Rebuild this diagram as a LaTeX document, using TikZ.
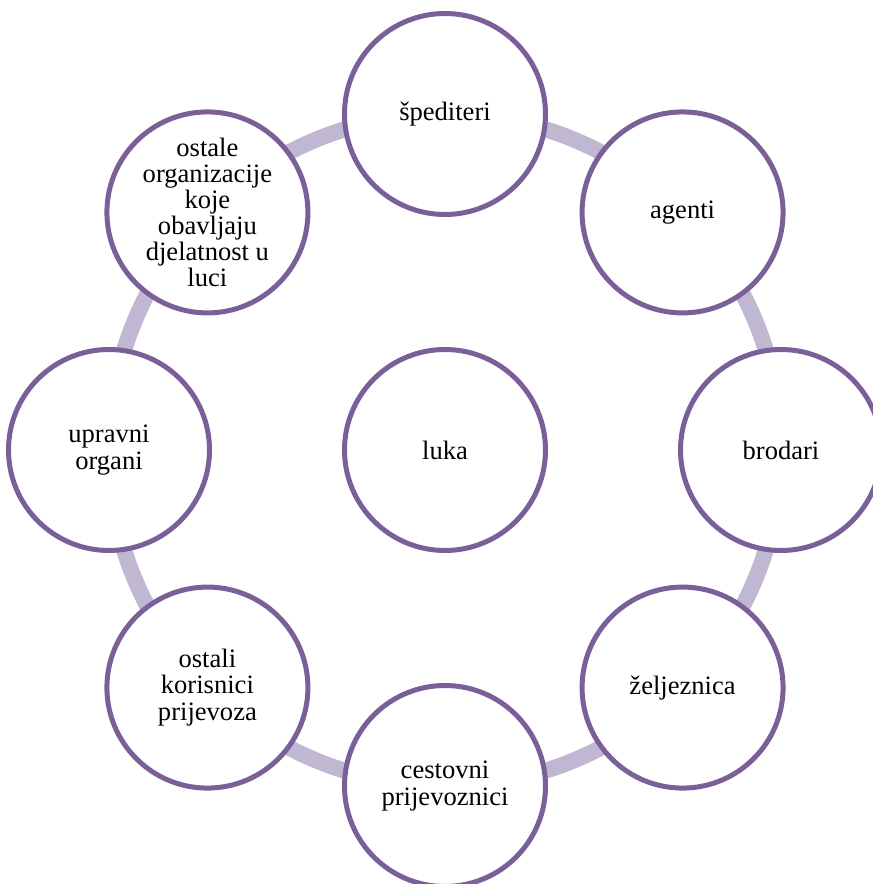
\documentclass[tikz,border=0pt]{standalone}
\usepackage{fontspec}
\setmainfont{Liberation Serif}
\usepackage{tikz}
\definecolor{krugrub}{HTML}{7B5F99}
\definecolor{prsten}{HTML}{C0B8D3}

\begin{document}
\begin{tikzpicture}[line width=3.56pt,
    krug/.style={circle,draw=krugrub,fill=white,minimum size=5.025cm,inner sep=0pt,
      align=center,font=\rmfamily\fontsize{18.9}{18.6}\selectfont}]
  \useasboundingbox (-11.125,-10.85) rectangle (10.7,11.25);
  \draw[prsten,line width=11.4pt] (0,0) circle (8.4);
  \node[krug] (luka) at (0,0) {luka};
  \node[krug] (spediteri) at (90:8.4) {špediteri};
  \node[krug] (agenti) at (45:8.4) {agenti};
  \node[krug] (brodari) at (0:8.4) {brodari};
  \node[krug] (zeljeznica) at (-45:8.4) {željeznica};
  \node[krug] (cestovni) at (-90:8.4) {cestovni\\prijevoznici};
  \node[krug] (korisnici) at (-135:8.4) {ostali\\korisnici\\prijevoza};
  \node[krug] (upravni) at (180:8.4) {upravni\\organi};
  \node[krug] (ostale) at (135:8.4) {ostale\\organizacije\\koje\\obavljaju\\djelatnost u\\luci};
\end{tikzpicture}
\end{document}
